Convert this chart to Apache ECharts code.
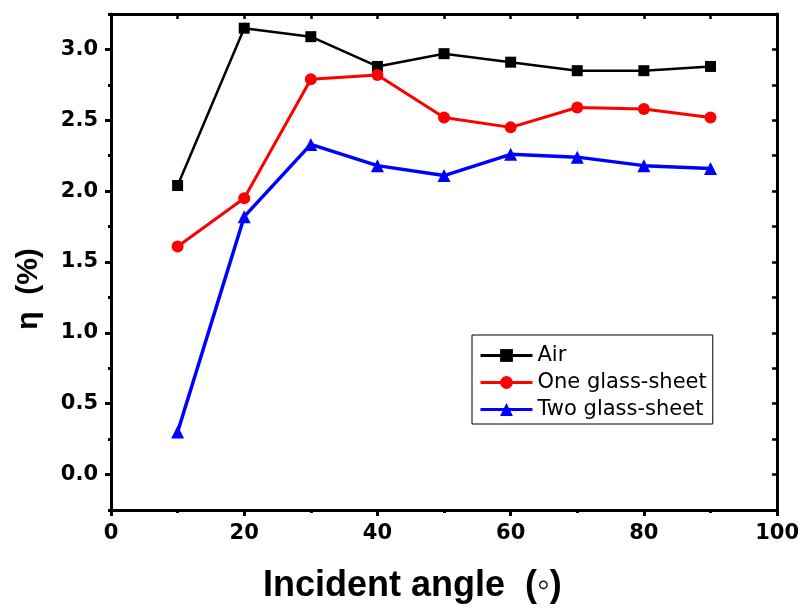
<!DOCTYPE html>
<html>
<head>
<meta charset="utf-8">
<script src="https://cdn.jsdelivr.net/npm/echarts@6/dist/echarts.min.js"></script>
<style>html,body{margin:0;padding:0;background:#fff}#c{width:802px;height:608px}</style>
</head>
<body>
<div id="c"></div>
<script>
const angles = [10, 20, 30, 40, 50, 60, 70, 80, 90];
const air = [2.04, 3.15, 3.09, 2.88, 2.97, 2.91, 2.85, 2.85, 2.88];
const oneGlass = [1.61, 1.95, 2.79, 2.82, 2.52, 2.45, 2.59, 2.58, 2.52];
const twoGlass = [0.30, 1.82, 2.33, 2.18, 2.11, 2.26, 2.24, 2.18, 2.16];
const seriesNames = ['Air', 'One glass-sheet', 'Two glass-sheet'];
const xTitle = 'Incident angle  (\u25E6)';
const yTitle = '\u03B7  (%)';

const G_LEFT = 111, G_RIGHT = 24, G_TOP = 14, G_BOTTOM = 98;
const Y_MIN = -0.25, Y_MAX = 3.25;
const plotH = 608 - G_TOP - G_BOTTOM;
const pxPerUnit = plotH / (Y_MAX - Y_MIN);
const g2Top = G_TOP + (Y_MAX - 3.0) * pxPerUnit;
const g2Bottom = G_BOTTOM + (0 - Y_MIN) * pxPerUnit;

const axisLine = { show: true, onZero: false, lineStyle: { color: '#000', width: 3 } };
const labelFont = { color: '#000', fontFamily: 'DejaVu Sans', fontWeight: 'bold', fontSize: 21 };

const chart = echarts.init(document.getElementById('c'), null, { renderer: 'canvas' });
chart.setOption({
  backgroundColor: '#fff',
  animation: false,
  grid: [
    { left: G_LEFT, right: G_RIGHT, top: G_TOP, bottom: G_BOTTOM },
    { left: G_LEFT, right: G_RIGHT, top: g2Top, bottom: g2Bottom }
  ],
  xAxis: [
    { type: 'value', gridIndex: 0, position: 'bottom', min: 0, max: 100, interval: 20,
      axisLine: axisLine, splitLine: { show: false },
      axisTick: { show: true, inside: false, length: 6, lineStyle: { color: '#000', width: 3 } },
      minorTick: { show: true, splitNumber: 2, length: 3, lineStyle: { color: '#000', width: 3 } },
      axisLabel: Object.assign({ margin: 13 }, labelFont) },
    { type: 'value', gridIndex: 0, position: 'top', min: 0, max: 100, interval: 10,
      axisLine: axisLine, splitLine: { show: false },
      axisTick: { show: true, inside: true, length: 5, lineStyle: { color: '#000', width: 2.5 } },
      axisLabel: { show: false } },
    { type: 'value', gridIndex: 1, min: 0, max: 100, show: false }
  ],
  yAxis: [
    { type: 'value', gridIndex: 0, position: 'left', min: Y_MIN, max: Y_MAX, interval: 0.25,
      axisLine: axisLine, splitLine: { show: false },
      axisTick: { show: true, inside: false, length: 3, lineStyle: { color: '#000', width: 3 } },
      axisLabel: { show: false } },
    { type: 'value', gridIndex: 0, position: 'right', min: Y_MIN, max: Y_MAX, interval: 0.25,
      axisLine: axisLine, splitLine: { show: false },
      axisTick: { show: true, inside: true, length: 5, lineStyle: { color: '#000', width: 2.5 } },
      axisLabel: { show: false } },
    { type: 'value', gridIndex: 1, position: 'left', min: 0, max: 3, interval: 0.5,
      axisLine: { show: false, onZero: false }, splitLine: { show: false },
      axisTick: { show: true, inside: false, length: 6, lineStyle: { color: '#000', width: 3 } },
      axisLabel: Object.assign({ margin: 13, formatter: v => v.toFixed(1) }, labelFont) }
  ],
  legend: {
    orient: 'vertical', left: 472, top: 335,
    data: seriesNames,
    itemWidth: 52, itemHeight: 16, itemGap: 6,
    padding: [10, 6, 4, 7],
    borderColor: '#000', borderWidth: 1, backgroundColor: '#fff',
    lineStyle: { width: 3 },
    textStyle: { color: '#000', fontFamily: 'DejaVu Sans', fontSize: 21 }
  },
  series: [
    { name: seriesNames[0], type: 'line', xAxisIndex: 0, yAxisIndex: 0,
      data: angles.map((a, i) => [a, air[i]]),
      symbol: 'rect', symbolSize: 11, color: '#000',
      lineStyle: { color: '#000', width: 2.5 }, itemStyle: { color: '#000' } },
    { name: seriesNames[1], type: 'line', xAxisIndex: 0, yAxisIndex: 0,
      data: angles.map((a, i) => [a, oneGlass[i]]),
      symbol: 'circle', symbolSize: 12, color: '#ff0000',
      lineStyle: { color: '#ff0000', width: 3 }, itemStyle: { color: '#ff0000' } },
    { name: seriesNames[2], type: 'line', xAxisIndex: 0, yAxisIndex: 0,
      data: angles.map((a, i) => [a, twoGlass[i]]),
      symbol: 'triangle', symbolSize: 13, color: '#0000ff',
      lineStyle: { color: '#0000ff', width: 3.5 }, itemStyle: { color: '#0000ff' } }
  ],
  graphic: [
    { type: 'text', left: 263, top: 568,
      style: { text: xTitle, fill: '#000', font: 'bold 36px "Liberation Sans"' } },
    { type: 'text', x: 29, y: 289, rotation: Math.PI / 2,
      style: { text: yTitle, fill: '#000', font: 'bold 30px "Liberation Sans"', align: 'center', verticalAlign: 'middle' } }
  ]
});
</script>
</body>
</html>
